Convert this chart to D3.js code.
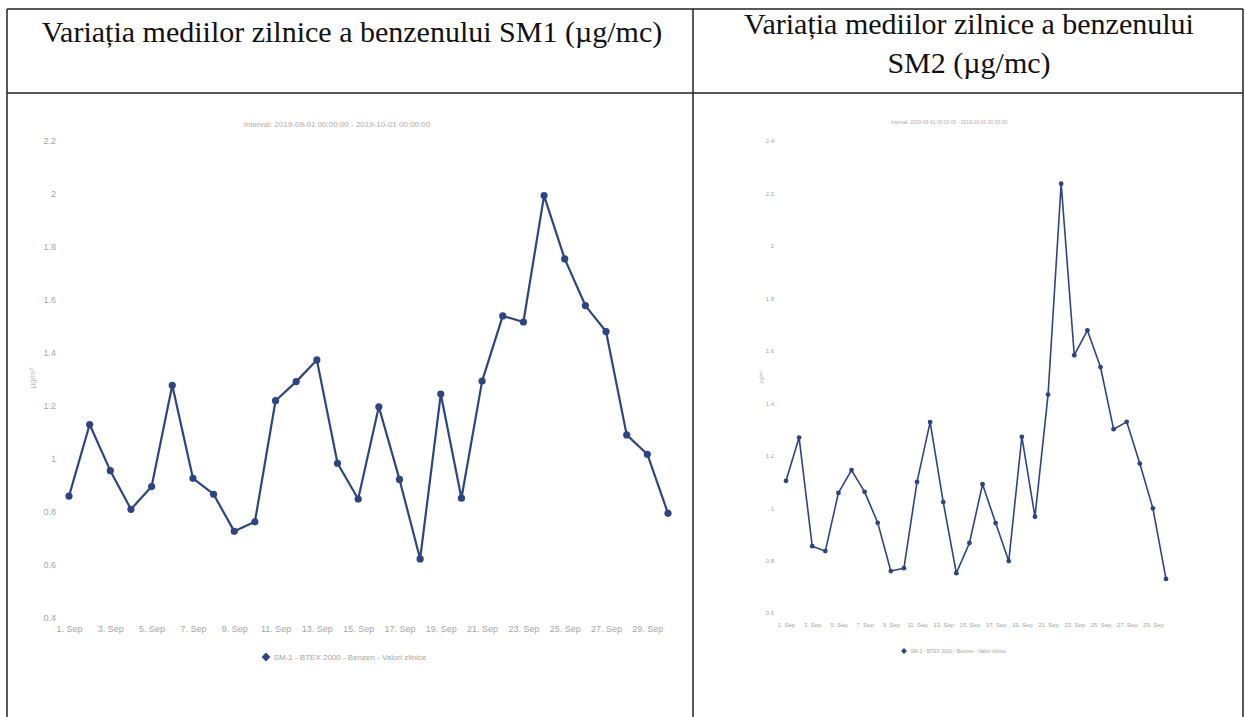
<!DOCTYPE html>
<meta charset="utf-8">
<style>
  body { margin: 0; background: #fff; }
  svg { display: block; }
</style>
<body>
<svg width="1245" height="717"></svg>
<script src="https://cdnjs.cloudflare.com/ajax/libs/d3/7.8.5/d3.min.js"></script>
<script>
// daily benzene means, September 2019
var days = d3.range(1, 31);
var sm1Values = [0.86, 1.13, 0.956, 0.81, 0.896, 1.278, 0.927, 0.867, 0.727, 0.763,
                 1.22, 1.292, 1.374, 0.984, 0.849, 1.197, 0.923, 0.623, 1.245, 0.852,
                 1.294, 1.54, 1.517, 1.994, 1.755, 1.579, 1.481, 1.091, 1.018, 0.795];
var sm2Values = [1.104, 1.269, 0.855, 0.836, 1.058, 1.145, 1.062, 0.944, 0.76, 0.771,
                 1.10, 1.328, 1.023, 0.752, 0.867, 1.091, 0.943, 0.798, 1.272, 0.967,
                 1.433, 2.237, 1.583, 1.678, 1.538, 1.301, 1.329, 1.17, 0.999, 0.73];
var sm1Ticks = [0.4, 0.6, 0.8, 1, 1.2, 1.4, 1.6, 1.8, 2, 2.2];
var sm2Ticks = [0.6, 0.8, 1, 1.2, 1.4, 1.6, 1.8, 2, 2.2, 2.4];
var dayTicks = d3.range(1, 31, 2);
var headers = ["Variația mediilor zilnice a benzenului SM1 (µg/mc)",
               ["Variația mediilor zilnice a benzenului", "SM2 (µg/mc)"]];
var legendLabels = ["SM-1 - BTEX 2000 - Benzen - Valori zilnice",
                    "SM-2 - BTEX 2000 - Benzen - Valori zilnice"];
var intervalLabel = "Interval: 2019-09-01 00:00:00 - 2019-10-01 00:00:00";

var svg = d3.select("svg");
var lineColor = "#2e4584";

// table frame
var frame = svg.append("g").attr("stroke", "#222").attr("stroke-width", 1.5);
frame.append("line").attr("x1", 7).attr("y1", 9).attr("x2", 1243).attr("y2", 9);
frame.append("line").attr("x1", 7).attr("y1", 93).attr("x2", 1243).attr("y2", 93);
frame.append("line").attr("x1", 7).attr("y1", 9).attr("x2", 7).attr("y2", 717);
frame.append("line").attr("x1", 693).attr("y1", 9).attr("x2", 693).attr("y2", 717);
frame.append("line").attr("x1", 1243).attr("y1", 9).attr("x2", 1243).attr("y2", 717);

// headers
svg.append("text")
    .attr("x", 352).attr("y", 42)
    .attr("text-anchor", "middle")
    .attr("font-family", "'Liberation Serif', serif")
    .attr("font-size", 30)
    .attr("fill", "#111")
    .text(headers[0]);

svg.append("g").selectAll("text")
    .data(headers[1])
    .enter().append("text")
    .attr("x", 969)
    .attr("y", (d, i) => 34 + i * 39)
    .attr("text-anchor", "middle")
    .attr("font-family", "'Liberation Serif', serif")
    .attr("font-size", 30)
    .attr("fill", "#111")
    .text(d => d);

function drawChart(opt) {
    var x = d3.scaleLinear().domain([1, 30]).range(opt.xRange);
    var y = d3.scaleLinear().domain(d3.extent(opt.ticks)).range(opt.yRange);
    var g = svg.append("g")
        .attr("font-family", "'Liberation Sans', Arial, sans-serif");

    var yAxis = g.append("g")
        .attr("transform", "translate(" + opt.yAxisX + ",0)")
        .call(d3.axisLeft(y).tickValues(opt.ticks).tickSize(0).tickPadding(0)
            .tickFormat(d => +d.toFixed(1)));
    yAxis.select(".domain").remove();
    yAxis.selectAll("text").attr("fill", "#a5a5a5").attr("font-size", opt.font);

    var xAxis = g.append("g")
        .attr("transform", "translate(0," + opt.xAxisY + ")")
        .call(d3.axisBottom(x).tickValues(dayTicks).tickSize(0).tickPadding(0)
            .tickFormat(d => d + ". Sep"));
    xAxis.select(".domain").remove();
    xAxis.selectAll("text").attr("fill", "#a5a5a5").attr("font-size", opt.font);

    g.append("text")
        .attr("transform", "translate(" + opt.unitPos[0] + "," + opt.unitPos[1] + ") rotate(-90)")
        .attr("text-anchor", "middle")
        .attr("font-size", opt.font - 1)
        .attr("fill", "#b5bcc8")
        .text("µg/m³");

    g.append("text")
        .attr("x", opt.intervalPos[0]).attr("y", opt.intervalPos[1])
        .attr("text-anchor", "middle")
        .attr("font-size", opt.font - 1)
        .attr("fill", "#b0a8aa")
        .text(intervalLabel);

    var line = d3.line()
        .x((d, i) => x(days[i]))
        .y(d => y(d));

    g.append("path")
        .datum(opt.values)
        .attr("fill", "none")
        .attr("stroke", lineColor)
        .attr("stroke-width", opt.lineWidth)
        .attr("stroke-linejoin", "round")
        .attr("d", line);

    g.append("g").selectAll("circle")
        .data(opt.values)
        .enter().append("circle")
        .attr("cx", (d, i) => x(days[i]))
        .attr("cy", d => y(d))
        .attr("r", opt.dot)
        .attr("fill", lineColor);

    var leg = g.append("g")
        .attr("transform", "translate(" + opt.legendPos[0] + "," + opt.legendPos[1] + ")");
    leg.append("path")
        .attr("transform", "rotate(45)")
        .attr("d", d3.symbol(d3.symbolSquare, opt.dot * opt.dot * 3)())
        .attr("fill", lineColor);
    leg.append("text")
        .attr("x", opt.dot + 4).attr("y", 0)
        .attr("dy", "0.35em")
        .attr("font-size", opt.font - 1)
        .attr("fill", "#a5a5a5")
        .text(opt.legend);
}

drawChart({
    values: sm1Values, ticks: sm1Ticks,
    xRange: [69, 668], yRange: [618, 141],
    yAxisX: 56, xAxisY: 626, font: 9,
    unitPos: [35, 378], intervalPos: [337, 127],
    legendPos: [266, 657], legend: legendLabels[0],
    lineWidth: 2.2, dot: 3.6
});

drawChart({
    values: sm2Values, ticks: sm2Ticks,
    xRange: [786, 1166], yRange: [613, 141],
    yAxisX: 774, xAxisY: 623, font: 6,
    unitPos: [763, 377], intervalPos: [949, 124],
    legendPos: [904, 651], legend: legendLabels[1],
    lineWidth: 1.6, dot: 2.4
});
</script>
</body>
